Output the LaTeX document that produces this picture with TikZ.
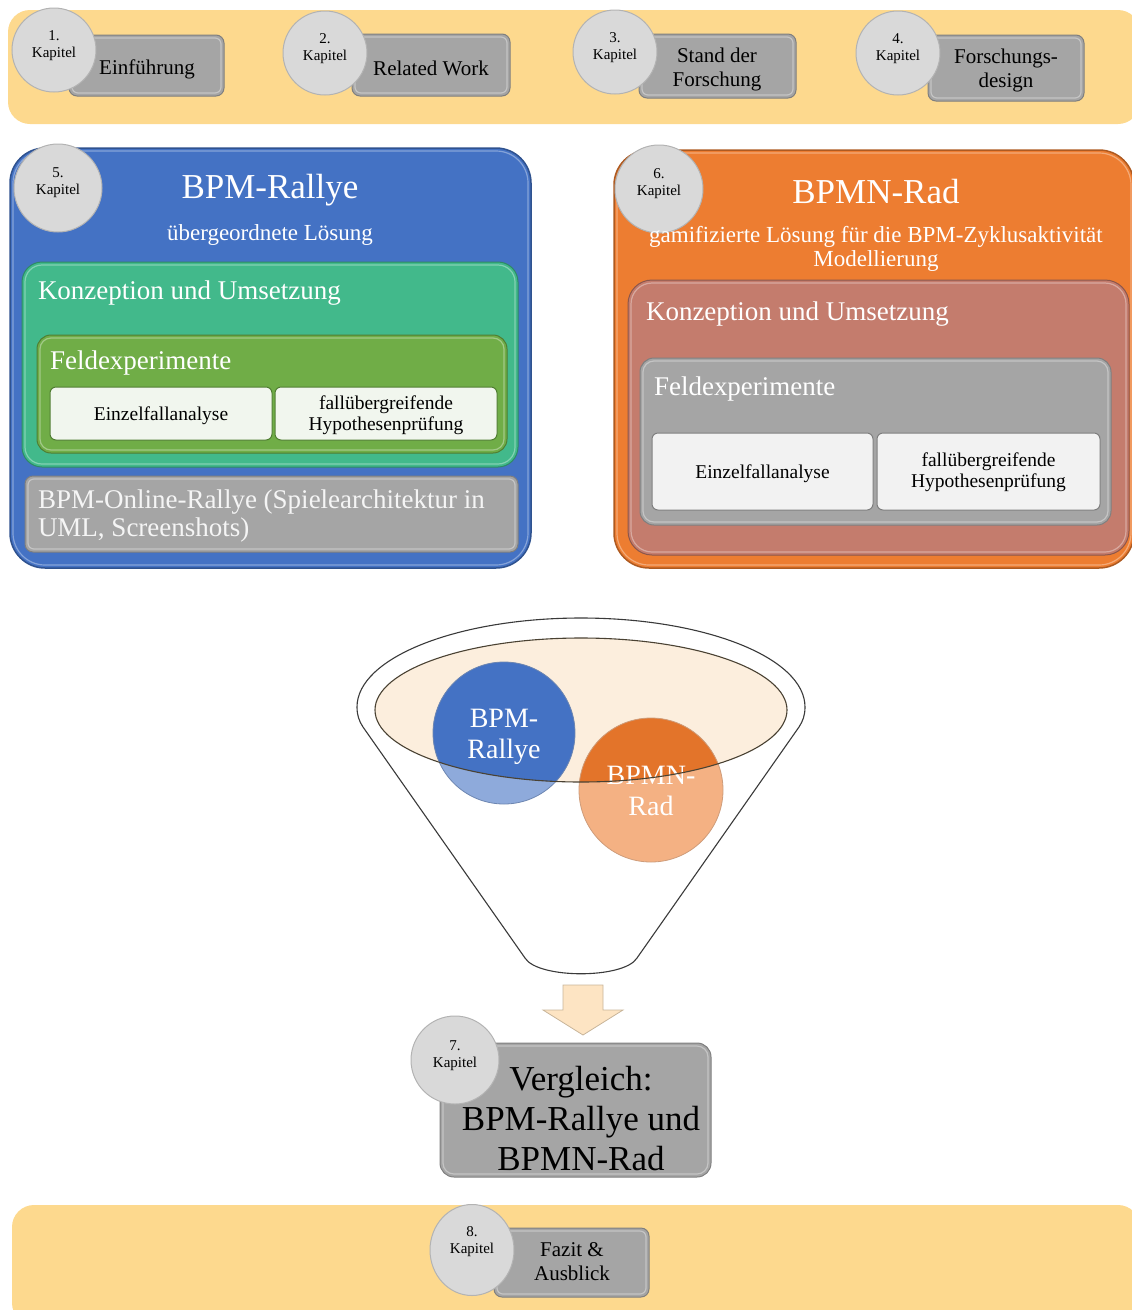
\documentclass[tikz,border=0pt]{standalone}
\usepackage{fontspec}
\setmainfont{Liberation Serif}
\usetikzlibrary{shapes.geometric,fit}

\definecolor{band}{HTML}{FDD98E}
\definecolor{kapfill}{HTML}{D9D9D9}
\definecolor{kapedge}{HTML}{B3B3B3}
\definecolor{boxgray}{HTML}{A5A5A5}
\definecolor{boxedge}{HTML}{7F7F7F}
\definecolor{bpmblue}{HTML}{4472C4}
\definecolor{blueedge}{HTML}{2F528F}
\definecolor{konzgreen}{HTML}{42B98B}
\definecolor{greenedge}{HTML}{2E8A64}
\definecolor{feldgreen}{HTML}{70AD47}
\definecolor{feldedge}{HTML}{507E32}
\definecolor{paleg}{HTML}{F1F6EE}
\definecolor{bpmnorange}{HTML}{ED7D31}
\definecolor{orangeedge}{HTML}{AE5A21}
\definecolor{rose}{HTML}{C47C6D}
\definecolor{roseedge}{HTML}{8C574B}
\definecolor{paleg2}{HTML}{F2F2F2}
\definecolor{bowl}{HTML}{FCEEDD}
\definecolor{bowledge}{HTML}{4A4233}
\definecolor{arrowfill}{HTML}{FDE4C3}
\definecolor{arrowedge}{HTML}{C8B59A}
\definecolor{funneledge}{HTML}{3A3A3A}
\definecolor{circorange}{HTML}{E3742A}

\begin{document}
\begin{tikzpicture}[x=1pt,y=-1pt,line width=1pt,
  every node/.style={inner sep=0pt,outer sep=0pt},
  bandbox/.style={rectangle,rounded corners=22pt,fill=band,draw=none},
  kap/.style={circle,fill=kapfill,draw=kapedge,minimum size=84pt},
  kaptext/.style={font=\fontsize{15}{17}\selectfont,align=center,text=black},
  chbox/.style={rectangle,rounded corners=8pt,fill=boxgray,draw=boxedge},
  chtext/.style={font=\fontsize{21}{24}\selectfont,align=center,text=black},
  container/.style={rectangle,rounded corners=35pt,line width=1.5pt},
  shine/.style={rectangle,draw=white,draw opacity=.35,line width=1.2pt,inner sep=-3pt},
  title/.style={font=\fontsize{35}{40}\selectfont,text=white,align=center},
  subtitle/.style={font=\fontsize{23}{24}\selectfont,text=white,align=center},
  seclabel/.style={font=\fontsize{27}{28}\selectfont,text=white,anchor=west,align=left},
  leaf/.style={rectangle,rounded corners=6pt},
  leaftext/.style={font=\fontsize{19.5}{21}\selectfont,align=center,text=black},
  bigtext/.style={font=\fontsize{35}{40}\selectfont,align=center,text=black},
  circtext/.style={font=\fontsize{28}{31}\selectfont,align=center,text=white}]

\useasboundingbox (0,0) rectangle (1132,1310);
\clip (0,0) rectangle (1132,1310);

% ---------- chapters 1-4 ----------
\node[bandbox,fit={(8,10)(1140,124)}] (topband) {};

\node[chbox,fit={(69,35)(224,96)}] (b1) {};
\node[shine,rounded corners=6pt,fit=(b1)] {};
\node[chtext] at (147,69) {Einführung};
\node[kap] (k1) at (54,50) {};
\node[kaptext,yshift=4pt] at (k1) {1.\\Kapitel};

\node[chbox,fit={(352,34)(510,96)}] (b2) {};
\node[shine,rounded corners=6pt,fit=(b2)] {};
\node[chtext] at (431,68) {Related Work};
\node[kap] (k2) at (325,53) {};
\node[kaptext,yshift=4pt] at (k2) {2.\\Kapitel};

\node[chbox,fit={(639,34)(796,98)}] (b3) {};
\node[shine,rounded corners=6pt,fit=(b3)] {};
\node[chtext] at (717,69) {Stand der\\Forschung};
\node[kap] (k3) at (615,52) {};
\node[kaptext,yshift=4pt] at (k3) {3.\\Kapitel};

\node[chbox,fit={(928,35)(1084,101)}] (b4) {};
\node[shine,rounded corners=6pt,fit=(b4)] {};
\node[chtext] at (1006,70) {Forschungs-\\design};
\node[kap] (k4) at (898,53) {};
\node[kaptext,yshift=4pt] at (k4) {4.\\Kapitel};

% ---------- chapter 5: BPM-Rallye ----------
\node[container,fill=bpmblue,draw=blueedge,fit={(10,148)(531,568)}] (rallye) {};
\node[shine,rounded corners=32pt,fit=(rallye)] {};
\node[kap,minimum size=88pt] (k5) at (58,188) {};
\node[kaptext,yshift=5pt] at (k5) {5.\\Kapitel};
\node[title] (rallyeT) at (270,190) {BPM-Rallye};
\node[subtitle] (rallyeS) at (270,235) {übergeordnete Lösung};

\node[rectangle,rounded corners=20pt,fill=konzgreen,draw=greenedge,
  fit={(22,262)(518,467)}] (konzL) {};
\node[shine,rounded corners=17pt,fit=(konzL)] {};
\node[seclabel] at (38,293) {Konzeption und Umsetzung};

\node[rectangle,rounded corners=14pt,fill=feldgreen,draw=feldedge,
  fit={(37,335)(507,453)}] (feldL) {};
\node[shine,rounded corners=11pt,fit=(feldL)] {};
\node[seclabel] at (50,363) {Feldexperimente};

\node[leaf,fill=paleg,draw=feldedge,fit={(50,387)(272,440)}] (einzL) {};
\node[leaftext] at ([yshift=-2pt]einzL.center) {Einzelfallanalyse};
\node[leaf,fill=paleg,draw=feldedge,fit={(275,387)(497,440)}] (hypL) {};
\node[leaftext] at ([yshift=-2pt]hypL.center) {fallübergreifende\\Hypothesenprüfung};

\node[rectangle,rounded corners=8pt,fill=boxgray,draw=boxedge,
  fit={(25,476)(518,552)}] (online) {};
\node[shine,rounded corners=6pt,fit=(online)] {};
\node[seclabel,text=white!92!gray] at (38,516)
  {BPM-Online-Rallye (Spielearchitektur in\\UML, Screenshots)};

% ---------- chapter 6: BPMN-Rad ----------
\node[container,fill=bpmnorange,draw=orangeedge,fit={(614,150)(1134,568)}] (rad) {};
\node[shine,rounded corners=32pt,fit=(rad)] {};
\node[kap,minimum size=88pt] (k6) at (659,189) {};
\node[kaptext,yshift=5pt] at (k6) {6.\\Kapitel};
\node[title] (radT) at (876,192) {BPMN-Rad};
\node[subtitle] (radS) at (876,249)
  {gamifizierte Lösung für die BPM-Zyklusaktivität\\Modellierung};

\node[rectangle,rounded corners=24pt,fill=rose,draw=roseedge,
  fit={(628,280)(1129,555)}] (konzR) {};
\node[shine,rounded corners=21pt,fit=(konzR)] {};
\node[seclabel] at (646,314) {Konzeption und Umsetzung};

\node[rectangle,rounded corners=14pt,fill=boxgray,draw=boxedge,
  fit={(640,358)(1111,525)}] (feldR) {};
\node[shine,rounded corners=11pt,fit=(feldR)] {};
\node[seclabel] at (654,389) {Feldexperimente};

\node[leaf,fill=paleg2,draw=boxedge,fit={(652,433)(873,510)}] (einzR) {};
\node[leaftext] at ([yshift=-2pt]einzR.center) {Einzelfallanalyse};
\node[leaf,fill=paleg2,draw=boxedge,fit={(877,433)(1100,510)}] (hypR) {};
\node[leaftext] at ([yshift=-1pt]hypR.center) {fallübergreifende\\Hypothesenprüfung};

% ---------- funnel ----------
\draw[funneledge,fill=white,line width=1.1pt]
  (357,707) .. controls (357,657.8) and (457.3,618) .. (581,618)
  .. controls (704.7,618) and (805,657.8) .. (805,707)
  .. controls (805,715) and (803,721) .. (799,727)
  -- (637,958) .. controls (624,979) and (538,979) .. (525,958)
  -- (363,727) .. controls (359,721) and (357,715) .. (357,707) -- cycle;

\fill[bowl] (581,710) ellipse [x radius=206, y radius=72];

% circles: lighter where they leave the bowl
\fill[bpmblue,opacity=.6] (504,733) circle [radius=71];
\fill[bpmnorange,opacity=.6] (651,790) circle [radius=72];
\begin{scope}
  \clip (581,710) ellipse [x radius=206, y radius=72];
  \fill[bpmblue] (504,733) circle [radius=71];
  \fill[circorange] (651,790) circle [radius=72];
\end{scope}
\node[circle,minimum size=142pt,draw=blueedge!70,line width=0.8pt] (cRallye) at (504,733) {};
\node[circle,minimum size=144pt,draw=orangeedge!60,line width=0.8pt] (cRad) at (651,790) {};
\node[circtext] at (504,737) {BPM-\\Rallye};
\node[circtext] at (651,791) {BPMN-\\Rad};

\draw[bowledge,line width=1.1pt] (581,710) ellipse [x radius=206, y radius=72];

% ---------- arrow and chapter 7 ----------
\draw[arrowedge,fill=arrowfill,line width=0.8pt]
  (563,985) -- (603,985) -- (603,1010) -- (623,1010) -- (583,1035)
  -- (543,1010) -- (563,1010) -- cycle;

\node[rectangle,rounded corners=14pt,fill=boxgray,draw=boxedge,
  fit={(440,1043)(711,1177)}] (cmp) {};
\node[shine,rounded corners=11pt,fit=(cmp)] {};
\node[bigtext] at (581,1119) {Vergleich:\\BPM-Rallye und\\BPMN-Rad};
\node[kap,minimum size=88pt] (k7) at (455,1060) {};
\node[kaptext,yshift=4pt] at (k7) {7.\\Kapitel};

% ---------- chapter 8 ----------
\node[bandbox,fit={(12,1205)(1140,1325)}] (botband) {};
\node[chbox,fit={(494,1228)(649,1297)}] (b8) {};
\node[shine,rounded corners=6pt,fit=(b8)] {};
\node[chtext] at (572,1262) {Fazit \&\\Ausblick};
\node[ellipse,fill=kapfill,draw=kapedge,minimum width=84pt,minimum height=91pt] (k8) at (472,1250) {};
\node[kaptext,yshift=8pt] at (k8) {8.\\Kapitel};

\end{tikzpicture}
\end{document}
